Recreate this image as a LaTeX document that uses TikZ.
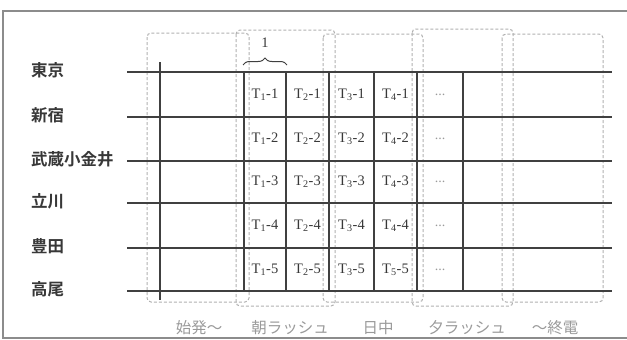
\documentclass[tikz,border=0pt]{standalone}
\usepackage{fontspec}
\setmainfont{Liberation Serif}
\newfontfamily\jp{Noto Sans CJK JP}
\newfontfamily\jpb{Noto Sans CJK JP Bold}
\usetikzlibrary{decorations.pathreplacing}
\definecolor{ln}{HTML}{404040}
\definecolor{txt}{HTML}{383838}
\definecolor{lite}{HTML}{9A9A9A}
\definecolor{dsh}{HTML}{B0B0B0}
\definecolor{frm}{HTML}{8C8C8C}
\tikzset{
  frame/.style={draw=frm, line width=1.5pt},
  gridline/.style={draw=ln, line width=1.3pt},
  period/.style={draw=dsh, line width=1pt, dash pattern=on 3pt off 2pt, rounded corners=4pt},
  station/.style={inner sep=0pt, anchor=west, text=txt, font=\jpb\fontsize{16.5}{18}\selectfont},
  cell/.style={inner sep=0pt, text=txt, font=\fontsize{14.5}{16}\selectfont},
  dots/.style={inner sep=0pt, text=lite, font=\fontsize{14}{16}\selectfont},
  plabel/.style={inner sep=0pt, text=lite, font=\jp\fontsize{15.5}{18}\selectfont},
}
\begin{document}
\begin{tikzpicture}[x=1pt,y=-1pt]
\useasboundingbox (0,0) rectangle (627,340);
% frame
\coordinate (f1) at (630,11);
\coordinate (f2) at (3,11);
\coordinate (f3) at (3,338);
\coordinate (f4) at (630,338);
\draw[frame] (f1) -- (f2) -- (f3) -- (f4);
% period boxes
\draw[period] (147,33) rectangle (249,302);
\draw[period] (236,30) rectangle (335,306);
\draw[period] (323,34) rectangle (423,302);
\draw[period] (412,29) rectangle (513,306);
\draw[period] (502,34) rectangle (603,302);
% station lines
\foreach \y/\n/\t in {72/s1/東京, 117/s2/新宿, 161/s3/武蔵小金井, 203/s4/立川, 248/s5/豊田, 291/s6/高尾}{
  \node[station] (\n) at (31,\y-2) {\t};
  \coordinate (\n a) at (127,\y);
  \coordinate (\n b) at (612,\y);
  \draw[gridline] (\n a) -- (\n b);
}
% vertical lines
\coordinate (v0a) at (160,62);
\coordinate (v0b) at (160,300);
\draw[gridline] (v0a) -- (v0b);
\foreach \x/\n in {244/v1, 286/v2, 329/v3, 374/v4, 417/v5, 463/v6}{
  \coordinate (\n a) at (\x,72);
  \coordinate (\n b) at (\x,291);
  \draw[gridline] (\n a) -- (\n b);
}
% cells
\foreach \y/\r in {94.5/1, 139/2, 182/3, 225.5/4, 269.5/5}{
  \node[cell] (c1\r) at (265,\y) {T\textsubscript{1}-\r};
  \node[cell] (c2\r) at (307.5,\y) {T\textsubscript{2}-\r};
  \node[cell] (c3\r) at (351.5,\y) {T\textsubscript{3}-\r};
  \node[dots] (c5\r) at (440,\y) {...};
}
\node[cell] (c41) at (395.5,94.5) {T\textsubscript{4}-1};
\node[cell] (c42) at (395.5,139) {T\textsubscript{4}-2};
\node[cell] (c43) at (395.5,182) {T\textsubscript{4}-3};
\node[cell] (c44) at (395.5,225.5) {T\textsubscript{4}-4};
\node[cell] (c45) at (395.5,269.5) {T\textsubscript{5}-5};
% brace
\coordinate (b1) at (243,65);
\coordinate (b2) at (287,65);
\draw[ln, line width=1pt, decorate, decoration={brace, amplitude=7pt}] (b1) -- (b2);
\node[cell] (one) at (265,43) {1};
% period labels
\node[plabel] (p1) at (199,328) {始発〜};
\node[plabel] (p2) at (290,328) {朝ラッシュ};
\node[plabel] (p3) at (378,328) {日中};
\node[plabel] (p4) at (467,328) {夕ラッシュ};
\node[plabel] (p5) at (555,328) {〜終電};
\end{tikzpicture}
\end{document}
